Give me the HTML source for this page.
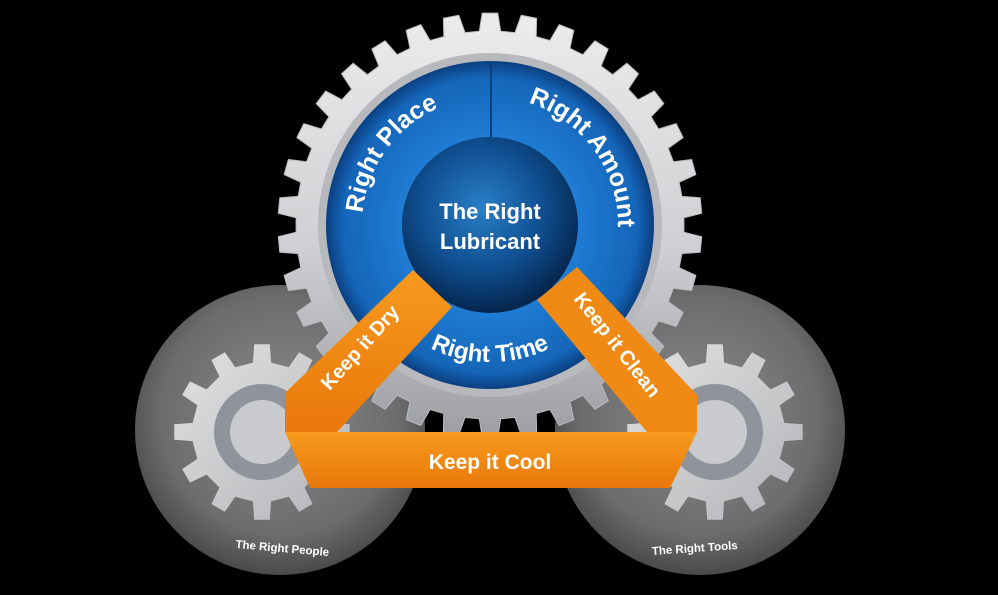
<!DOCTYPE html>
<html><head><meta charset="utf-8"><style>
html,body{margin:0;padding:0;background:#000;width:998px;height:595px;overflow:hidden}
svg{display:block}
text{font-family:"Liberation Sans",Arial,sans-serif;font-weight:bold;fill:#fff}
</style></head><body>
<svg id="s" width="998" height="595" viewBox="0 0 998 595" xmlns="http://www.w3.org/2000/svg">
<defs>
<radialGradient id="wheel" cx="50%" cy="45%" r="55%"><stop offset="0" stop-color="#8a8a8a"/><stop offset="0.75" stop-color="#6c6c6c"/><stop offset="1" stop-color="#4a4a4a"/></radialGradient>
<linearGradient id="gearg" x1="0" y1="0" x2="0" y2="1"><stop offset="0" stop-color="#ececec"/><stop offset="0.55" stop-color="#cfd0d3"/><stop offset="1" stop-color="#9c9ea3"/></linearGradient>
<linearGradient id="sg" x1="0" y1="0" x2="1" y2="1"><stop offset="0" stop-color="#e2e2e2"/><stop offset="1" stop-color="#b3b4b8"/></linearGradient>
<radialGradient id="blue" cx="50%" cy="50%" r="50%"><stop offset="0.5" stop-color="#1f7fd6"/><stop offset="0.9" stop-color="#1565b8"/><stop offset="1" stop-color="#0b3f80"/></radialGradient>
<radialGradient id="core" cx="45%" cy="40%" r="60%"><stop offset="0" stop-color="#2a7fc8"/><stop offset="0.6" stop-color="#0f4d8e"/><stop offset="1" stop-color="#06264e"/></radialGradient>
<linearGradient id="or" x1="0" y1="0" x2="0" y2="1"><stop offset="0" stop-color="#f79a1e"/><stop offset="1" stop-color="#e8780a"/></linearGradient>
<path id="arcTop" d="M362,225 A128,128 0 0 1 618,225"/>
<path id="arcBot" d="M353,225 A137,137 0 0 0 627,225"/>
</defs>
<circle cx="280" cy="430" r="145" fill="url(#wheel)"/>
<circle cx="700" cy="430" r="145" fill="url(#wheel)"/>
<path id="sg1" fill="url(#sg)"/>
<path id="sg2" fill="url(#sg)"/>
<circle cx="262" cy="432" r="48" fill="#8f939b"/><circle cx="262" cy="432" r="32" fill="#c9cacd"/>
<circle cx="715" cy="432" r="48" fill="#8f939b"/><circle cx="715" cy="432" r="32" fill="#c9cacd"/>
<path id="big" fill="url(#gearg)" stroke="#b9bbbf" stroke-width="1" stroke-linejoin="round"/>
<circle cx="490" cy="225" r="172" fill="#b7b9bd"/>
<circle cx="490" cy="225" r="164" fill="url(#blue)"/>
<line x1="491" y1="62" x2="491" y2="137" stroke="#0d3f7a" stroke-width="2"/>
<circle cx="490" cy="225" r="88" fill="url(#core)"/>
<text font-size="25" text-anchor="middle"><textPath href="#arcTop" startOffset="80">Right Place</textPath></text>
<text font-size="25" text-anchor="middle"><textPath href="#arcTop" startOffset="322">Right Amount</textPath></text>
<text font-size="24" text-anchor="middle"><textPath href="#arcBot" startOffset="50%">Right Time</textPath></text>
<text x="490" y="219" font-size="22" text-anchor="middle">The Right</text>
<text x="490" y="249" font-size="22" text-anchor="middle">Lubricant</text>
<polygon points="285,432 285,393 413,270 452,307 337,432" fill="url(#or)"/>
<polygon points="537,300 577,267 697,395 697,432 647,432" fill="#f08a14"/>
<polygon points="285,432 697,432 670,488 310,488" fill="url(#or)"/>
<text transform="translate(365,352) rotate(-48)" font-size="20" text-anchor="middle">Keep it Dry</text>
<text transform="translate(612,349) rotate(52)" font-size="20" text-anchor="middle">Keep it Clean</text>
<text x="490" y="469" font-size="21" text-anchor="middle">Keep it Cool</text>
<text transform="translate(282,552) rotate(5)" font-size="11.5" text-anchor="middle">The Right People</text>
<text transform="translate(695,552) rotate(-4)" font-size="11.5" text-anchor="middle">The Right Tools</text>
</svg>
<script>
function gear(cx,cy,ro,ri,n,tw,rw,rot){
 var d="",st=2*Math.PI/n;
 for(var i=0;i<n;i++){
  var a=rot+i*st;
  var pts=[[ri,a-rw],[ro,a-tw],[ro,a+tw],[ri,a+rw],[ri,a+st-rw]];
  pts.forEach(function(p,j){var x=cx+p[0]*Math.cos(p[1]),y=cy+p[0]*Math.sin(p[1]);d+=(i==0&&j==0?"M":"L")+x.toFixed(1)+","+y.toFixed(1);});
 }
 return d+"Z";
}
var st=2*Math.PI/34;
document.getElementById("big").setAttribute("d",gear(490,225,212,194,34,st*0.2,st*0.3,-Math.PI/2));
var s2=2*Math.PI/12;
document.getElementById("sg1").setAttribute("d",gear(262,432,88,70,12,s2*0.17,s2*0.25,0));
document.getElementById("sg2").setAttribute("d",gear(715,432,88,70,12,s2*0.17,s2*0.25,0));
</script>
</body></html>
